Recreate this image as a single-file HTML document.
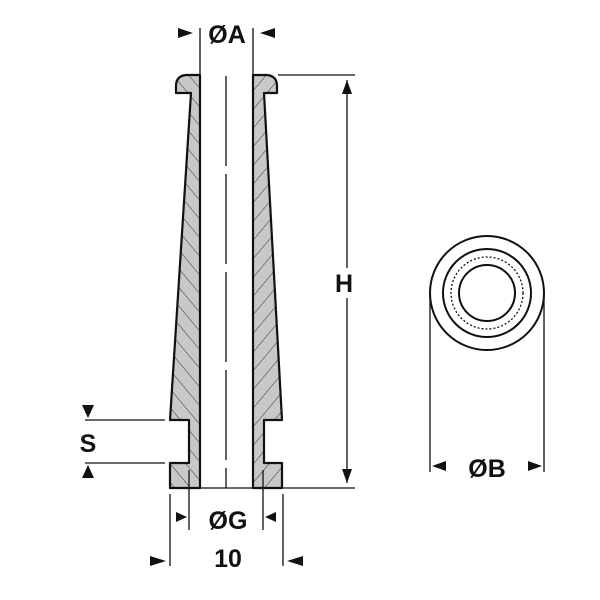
<!DOCTYPE html>
<html><head><style>body{margin:0;background:#fff}svg{display:block}</style></head><body>
<svg width="600" height="600" viewBox="0 0 600 600" xmlns="http://www.w3.org/2000/svg" font-family="Liberation Sans, sans-serif" font-weight="bold">
<defs>
<pattern id="hl" patternUnits="userSpaceOnUse" width="12" height="12" patternTransform="rotate(-40)">
<rect width="12" height="12" fill="#c8c8c8"/><line x1="0" y1="0" x2="0" y2="12" stroke="#333" stroke-width="1"/></pattern>
<pattern id="hr" patternUnits="userSpaceOnUse" width="12" height="12" patternTransform="rotate(40)">
<rect width="12" height="12" fill="#c8c8c8"/><line x1="0" y1="0" x2="0" y2="12" stroke="#333" stroke-width="1"/></pattern>
</defs>
<g stroke="#111" stroke-width="2.2" stroke-linejoin="round">
<path d="M200,75 L186,75 Q176,76 176,86 L176,93 L191,93 L170,420 L189,420 L189,463 L170,463 L170,488 L200,488 Z" fill="url(#hl)"/>
<path d="M253,75 L267,75 Q277,76 277,86 L277,93 L264,93 L282,420 L264,420 L264,463 L282,463 L282,488 L253,488 Z" fill="url(#hr)"/>
</g>
<g stroke="#111" stroke-width="1.3" fill="none">
<line x1="226" y1="76" x2="226" y2="488" stroke-dasharray="90,8"/>
<line x1="170" y1="488" x2="355" y2="488"/>
<line x1="278" y1="75" x2="355" y2="75"/>
<line x1="200" y1="28" x2="200" y2="75"/><line x1="253" y1="28" x2="253" y2="75"/>
<line x1="347" y1="80" x2="347" y2="268"/><line x1="347" y1="298" x2="347" y2="483"/>
<line x1="85" y1="420" x2="165" y2="420"/><line x1="85" y1="463" x2="165" y2="463"/>
<line x1="189" y1="470" x2="189" y2="530"/><line x1="263" y1="470" x2="263" y2="530"/>
<line x1="170" y1="494" x2="170" y2="566"/><line x1="283" y1="494" x2="283" y2="566"/>
<line x1="430" y1="293" x2="430" y2="472"/><line x1="544" y1="293" x2="544" y2="472"/>
</g>
<g fill="#111">
<polygon points="178,28 193,33 178,38"/><polygon points="275,28 260,33 275,38"/>
<polygon points="342,94 347,80 352,94"/><polygon points="342,469 347,483 352,469"/>
<polygon points="82,405 88,418 94,405"/><polygon points="82,478 88,465 94,478"/>
<polygon points="176,512 187,517 176,522"/><polygon points="276,512 265,517 276,522"/>
<polygon points="150,556 166,561 150,566"/><polygon points="303,556 287,561 303,566"/>
<polygon points="446,461 432,466 446,471"/><polygon points="528,461 542,466 528,471"/>
</g>
<g fill="none" stroke="#111" stroke-width="2">
<circle cx="487" cy="293" r="57"/><circle cx="487" cy="293" r="44"/>
<circle cx="487" cy="293" r="36" stroke-width="1.3" stroke-dasharray="2,2"/>
<circle cx="487" cy="293" r="28"/>
</g>
<g font-size="25" fill="#111" text-anchor="middle">
<text x="227" y="43">ØA</text>
<text x="344" y="292">H</text>
<text x="88" y="452">S</text>
<text x="228" y="529">ØG</text>
<text x="228" y="567">10</text>
<text x="487" y="477">ØB</text>
</g>
</svg>
</body></html>
